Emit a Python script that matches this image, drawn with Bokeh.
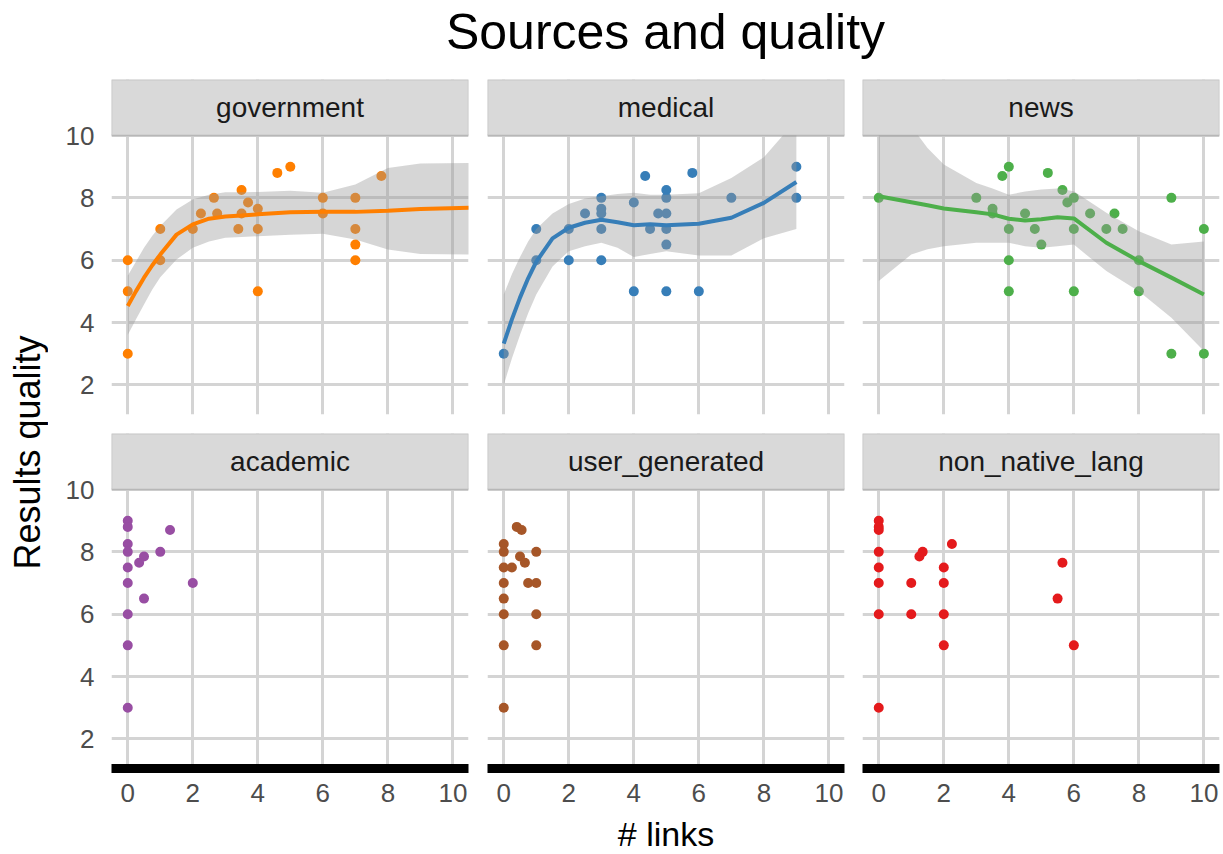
import math
from bokeh.plotting import figure
from bokeh.layouts import column, row
from bokeh.models import Range1d, LinearAxis, Grid, FixedTicker, BoxAnnotation
from bokeh.core.properties import value
from bokeh.embed import file_html
from bokeh.resources import INLINE

FONT = "Liberation Sans"

# ---------------- data ----------------
facets = ["government", "medical", "news", "academic", "user_generated", "non_native_lang"]
colors = ["#FF7F00", "#377EB8", "#4DAF4A", "#984EA3", "#A65628", "#E41A1C"]

gov_x = [0, 0, 0, 1, 1, 2, 2.25, 2.65, 2.75, 3.5, 3.4, 3.5, 3.7, 4, 4, 4, 4.6, 5, 6, 6, 7, 7, 7, 7, 7.8]
gov_y = [3, 5, 6, 7, 6, 7, 7.5, 8, 7.5, 8.25, 7, 7.5, 7.85, 7.65, 7, 5, 8.8, 9, 8, 7.5, 8, 7, 6.5, 6, 8.7]
gov_fit_x = [0, 0.25, 0.5, 0.75, 1, 1.5, 2, 2.5, 3, 3.5, 4, 5, 6, 7, 8, 9, 10.5]
gov_fit_y = [4.53, 5.0, 5.44, 5.83, 6.18, 6.82, 7.15, 7.33, 7.40, 7.43, 7.47, 7.54, 7.55, 7.55, 7.59, 7.64, 7.68]
gov_hi = [5.5, 5.95, 6.4, 6.78, 7.1, 7.63, 7.95, 8.1, 8.18, 8.18, 8.19, 8.23, 8.16, 8.43, 8.96, 9.1, 9.12]
gov_lo = [3.6, 4.1, 4.58, 5.05, 5.45, 6.02, 6.4, 6.6, 6.72, 6.74, 6.77, 6.82, 6.85, 6.66, 6.34, 6.2, 6.18]

med_x = [0, 1, 1, 2, 2, 2.5, 3, 3, 3, 3, 3, 4, 4, 4.35, 4.5, 4.75, 5, 5, 5, 5, 5, 5, 5.8, 6, 7, 9, 9]
med_y = [3, 7, 6, 7, 6, 7.5, 8, 7.65, 7.5, 7, 6, 7.85, 5, 8.7, 7, 7.5, 8.25, 8, 7.5, 7, 6.5, 5, 8.8, 5, 8, 9, 8]
med_fit_x = [0, 0.25, 0.5, 0.75, 1, 1.5, 2, 2.5, 3, 3.5, 4, 4.5, 5, 6, 7, 8, 9]
med_fit_y = [3.32, 4.1, 4.8, 5.42, 5.95, 6.7, 7.04, 7.2, 7.3, 7.22, 7.12, 7.15, 7.12, 7.17, 7.36, 7.84, 8.51]
med_hi = [4.9, 5.55, 6.1, 6.6, 7.0, 7.5, 7.8, 7.98, 8.05, 8.12, 8.16, 8.1, 8.1, 8.15, 8.64, 9.3, 10.5]
med_lo = [2.0, 2.85, 3.6, 4.3, 4.9, 5.8, 6.29, 6.45, 6.56, 6.4, 6.1, 6.2, 6.29, 6.15, 6.15, 6.7, 7.0]

news_x = [0, 3, 3.5, 3.5, 3.8, 4, 4, 4, 4, 4.5, 4.8, 5, 5.2, 5.65, 5.8, 6, 6, 6, 6.5, 7, 7.25, 7.5, 8, 8, 9, 9, 10, 10]
news_y = [8, 8, 7.65, 7.5, 8.7, 9, 7, 6, 5, 7.5, 7, 6.5, 8.8, 8.25, 7.85, 8, 7, 5, 7.5, 7, 7.5, 7, 6, 5, 8, 3, 7, 3]
news_fit_x = [0, 1, 1.5, 2, 3, 3.5, 4, 4.5, 5, 5.5, 6, 7, 8, 9, 10]
news_fit_y = [8.05, 7.86, 7.76, 7.66, 7.54, 7.47, 7.33, 7.27, 7.31, 7.38, 7.34, 6.56, 5.97, 5.44, 4.9]
news_hi = [11.5, 10.3, 9.6, 9.07, 8.48, 8.3, 8.1, 8.2, 8.27, 8.3, 8.21, 7.52, 6.93, 6.5, 6.6]
news_lo = [5.33, 6.18, 6.35, 6.45, 6.56, 6.56, 6.56, 6.45, 6.4, 6.45, 6.5, 5.65, 5.0, 4.15, 3.09]

aca_x = [0, 0, 0, 0, 0, 0, 0, 0, 0, 0.35, 0.5, 0.5, 1, 1.3, 2]
aca_y = [9, 8.8, 8.25, 8, 7.5, 7, 6, 5, 3, 7.65, 7.85, 6.5, 8, 8.7, 7]

ugc_x = [0, 0, 0, 0, 0, 0, 0, 0, 0.25, 0.4, 0.55, 0.5, 0.65, 0.75, 1, 1, 1, 1]
ugc_y = [8.25, 8, 7.5, 7, 6.5, 6, 5, 3, 7.5, 8.8, 8.7, 7.85, 7.65, 7, 7, 8, 6, 5]

nnl_x = [0, 0, 0, 0, 0, 0, 0, 0, 1, 1, 1.25, 1.35, 2, 2, 2, 2, 2.25, 5.65, 5.5, 6]
nnl_y = [9, 8.8, 8.7, 8, 7.5, 7, 6, 3, 7, 6, 7.85, 8, 7.5, 7, 6, 5, 8.25, 7.65, 6.5, 5]

x_ticks = [0, 2, 4, 6, 8, 10]
y_ticks = [2, 4, 6, 8, 10]

points = [(gov_x, gov_y), (med_x, med_y), (news_x, news_y),
          (aca_x, aca_y), (ugc_x, ugc_y), (nnl_x, nnl_y)]
fits = [(gov_fit_x, gov_fit_y, gov_lo, gov_hi),
        (med_fit_x, med_fit_y, med_lo, med_hi),
        (news_fit_x, news_fit_y, news_lo, news_hi),
        None, None, None]

# ---------------- layout constants ----------------
X_MIN, X_MAX = -0.5, 10.48
Y_MIN, Y_MAX = 1.05, 10.0
DATA_H = 279
STRIP_H = 56
Y_TOP = Y_MAX + STRIP_H * (Y_MAX - Y_MIN) / DATA_H

GRID = "#D4D4D4"
TICK_COL = "#4D4D4D"

TOTAL_W = 1223
TITLE_H = 79
XLAB_H = 42
YLAB_W = 48

col_specs = [  # width, min_border_left, min_border_right
    (429, 63, 9),
    (376, 10, 9),
    (370, 9, 4),
]
row_specs = [  # height, min_border_bottom
    (354, 19),
    (379, 44),
]


def make_panel(i):
    r, c = divmod(i, 3)
    w, bl, br = col_specs[c]
    h, bb = row_specs[r]
    p = figure(width=w, height=h, x_range=Range1d(X_MIN, X_MAX), y_range=Range1d(Y_MIN, Y_TOP),
               x_axis_type=None, y_axis_type=None, toolbar_location=None, output_backend="svg",
               min_border_left=bl, min_border_right=br, min_border_top=0, min_border_bottom=bb,
               outline_line_color=None, background_fill_color="white", border_fill_color="white")
    p.add_layout(Grid(dimension=0, ticker=FixedTicker(ticks=x_ticks),
                      grid_line_color=GRID, grid_line_width=3))
    p.add_layout(Grid(dimension=1, ticker=FixedTicker(ticks=y_ticks),
                      grid_line_color=GRID, grid_line_width=3))
    if c == 0:
        ax = LinearAxis(ticker=FixedTicker(ticks=y_ticks), axis_line_color=None,
                        major_tick_in=0, major_tick_out=0, minor_tick_in=0, minor_tick_out=0,
                        major_label_standoff=17, major_label_text_font=FONT,
                        major_label_text_font_size="26px", major_label_text_color=TICK_COL)
        p.add_layout(ax, "left")
    if r == 1:
        ax = LinearAxis(ticker=FixedTicker(ticks=x_ticks), axis_line_color="black",
                        axis_line_width=9,
                        major_tick_in=0, major_tick_out=0, minor_tick_in=0, minor_tick_out=0,
                        major_label_standoff=15, major_label_text_font=FONT,
                        major_label_text_font_size="26px", major_label_text_color=TICK_COL)
        p.add_layout(ax, "below")

    xs, ys = points[i]
    p.scatter(xs, ys, size=10, color=colors[i], line_color=None)
    if fits[i] is not None:
        fx, fy, lo, hi = fits[i]
        p.varea(x=fx, y1=lo, y2=hi, fill_color="#999999", fill_alpha=0.4)
        p.line(fx, fy, line_color=colors[i], line_width=4)

    strip = BoxAnnotation(bottom=Y_MAX, fill_color="#D9D9D9", fill_alpha=1.0,
                          line_color="#6E6E6E", line_width=1.3)
    p.add_layout(strip)
    p.text(x=[(X_MIN + X_MAX) / 2], y=[(Y_MAX + Y_TOP) / 2], text=[facets[i]],
           text_align="center", text_baseline="middle", text_font=value(FONT),
           text_font_size="28px", text_color="#1A1A1A", level="overlay")
    return p


panels = [make_panel(i) for i in range(6)]

title_fig = figure(width=TOTAL_W, height=TITLE_H, x_range=Range1d(0, TOTAL_W),
                   y_range=Range1d(TITLE_H, 0),
                   x_axis_type=None, y_axis_type=None, toolbar_location=None, output_backend="svg",
                   min_border=0, outline_line_color=None)
title_fig.text(x=[665], y=[31], text=["Sources and quality"], text_align="center",
               text_baseline="middle", text_font=value(FONT), text_font_size="50px",
               text_color="black")

grid_h = row_specs[0][0] + row_specs[1][0]
ylab_fig = figure(width=YLAB_W, height=grid_h, x_range=Range1d(0, YLAB_W), y_range=Range1d(grid_h, 0),
                  x_axis_type=None, y_axis_type=None, toolbar_location=None, output_backend="svg",
                  min_border=0, outline_line_color=None)
ylab_fig.text(x=[27], y=[373], text=["Results quality"], angle=math.pi / 2, text_align="center",
              text_baseline="middle", text_font=value(FONT), text_font_size="36px",
              text_color="black")

xlab_fig = figure(width=TOTAL_W, height=XLAB_H, x_range=Range1d(0, TOTAL_W), y_range=Range1d(XLAB_H, 0),
                  x_axis_type=None, y_axis_type=None, toolbar_location=None, output_backend="svg",
                  min_border=0, outline_line_color=None)
xlab_fig.text(x=[665.5], y=[21], text=["# links"], text_align="center",
              text_baseline="middle", text_font=value(FONT), text_font_size="34px",
              text_color="black")

layout = column(
    title_fig,
    row(ylab_fig, column(row(*panels[:3]), row(*panels[3:]))),
    xlab_fig,
)

open("out.html", "w").write(file_html(layout, INLINE))
